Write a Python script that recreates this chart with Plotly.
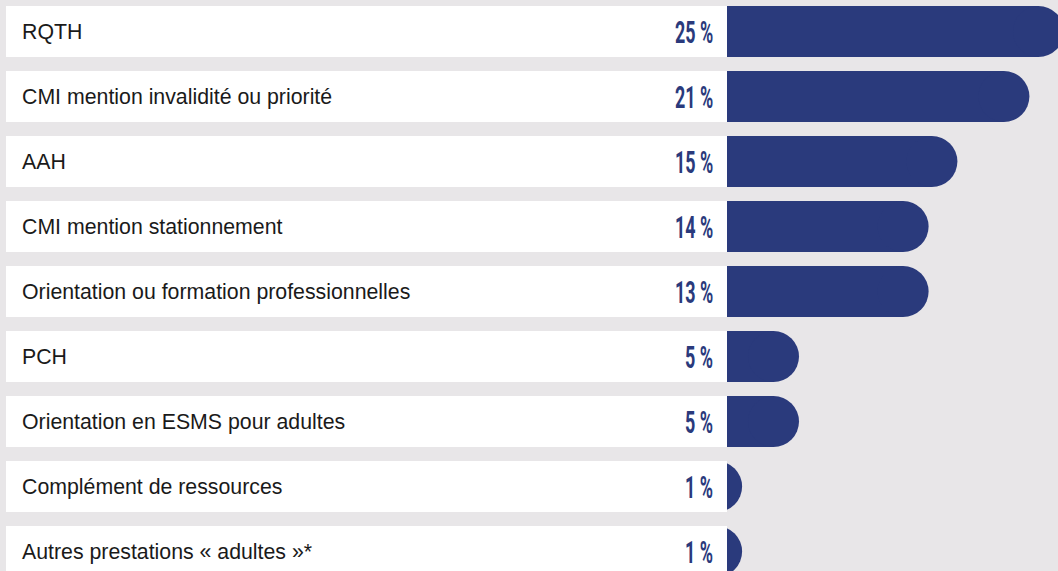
import plotly.graph_objects as go

# categories, top to bottom
categories = [
    "RQTH",
    "CMI mention invalidité ou priorité",
    "AAH",
    "CMI mention stationnement",
    "Orientation ou formation professionnelles",
    "PCH",
    "Orientation en ESMS pour adultes",
    "Complément de ressources",
    "Autres prestations « adultes »*",
]
# percentages as printed
pct_values = [25, 21, 15, 14, 13, 5, 5, 1, 1]
# bar lengths as drawn (in % units)
bar_length = [23.4, 21, 16, 14, 14, 5, 5, 1.05, 1.05]

NAVY = "#2a3a7c"
BG = "#e8e6e8"

PX_PER_UNIT = 14.4
BAR_PX = 51
r = BAR_PX / 2 / PX_PER_UNIT   # cap radius in data units
row_left = -721 / PX_PER_UNIT  # left edge of the white label rows
half = 0.3925

fig = go.Figure()

# straight part of the bars
fig.add_trace(go.Bar(
    y=categories, x=[max(0, v - r) for v in bar_length], base=0,
    orientation="h", width=2 * half,
    marker=dict(color=NAVY, line=dict(width=0)),
    hoverinfo="skip", showlegend=False))

# round caps
fig.add_trace(go.Scatter(
    y=categories, x=[v - r for v in bar_length], mode="markers",
    marker=dict(size=BAR_PX, color=NAVY, line=dict(width=0)),
    hoverinfo="skip", showlegend=False, cliponaxis=True))

# white label rows (drawn over anything left of zero)
for i, cat in enumerate(categories):
    fig.add_shape(type="rect", xref="x", yref="y",
                  x0=row_left, x1=0, y0=i - half, y1=i + half,
                  fillcolor="white", line=dict(width=0), layer="above")

# category labels
for cat in categories:
    fig.add_annotation(x=20 / 1058, xref="paper", y=cat, yref="y",
                       text=cat, showarrow=False, xanchor="left", yanchor="middle",
                       font=dict(family="Liberation Sans, Arial, sans-serif", size=21.3, color="#1a1a1a"))

# value labels
for cat, v in zip(categories, pct_values):
    fig.add_annotation(x=0, xref="x", y=cat, yref="y", xshift=-12,
                       text=f"{v} %", showarrow=False, xanchor="right", yanchor="middle",
                       font=dict(family="Roboto, sans-serif",
                                 size=32, color=NAVY, weight="bold"))

fig.update_layout(
    width=1058, height=571,
    margin=dict(l=0, r=0, t=0, b=0),
    paper_bgcolor=BG, plot_bgcolor=BG,
    barmode="overlay",
    xaxis=dict(range=[-727 / PX_PER_UNIT, (1058 - 727) / PX_PER_UNIT], visible=False, fixedrange=True),
    yaxis=dict(range=[8.3, -0.4846], visible=False, fixedrange=True),
)

# squeeze the percentage labels horizontally (condensed look), keeping their right edge
js = """
document.body.style.margin = '0';
var gd = document.getElementById('{plot_id}');
gd.querySelectorAll('.annotation-text').forEach(function (t) {
  if (t.textContent.indexOf('%') < 0) return;
  var b = t.getBBox();
  var R = b.x + b.width;
  t.setAttribute('transform', 'translate(' + R + ',0) scale(0.56,1) translate(' + (-R) + ',0)');
});
"""

fig.write_html("out.html", post_script=js, config={"displayModeBar": False})
